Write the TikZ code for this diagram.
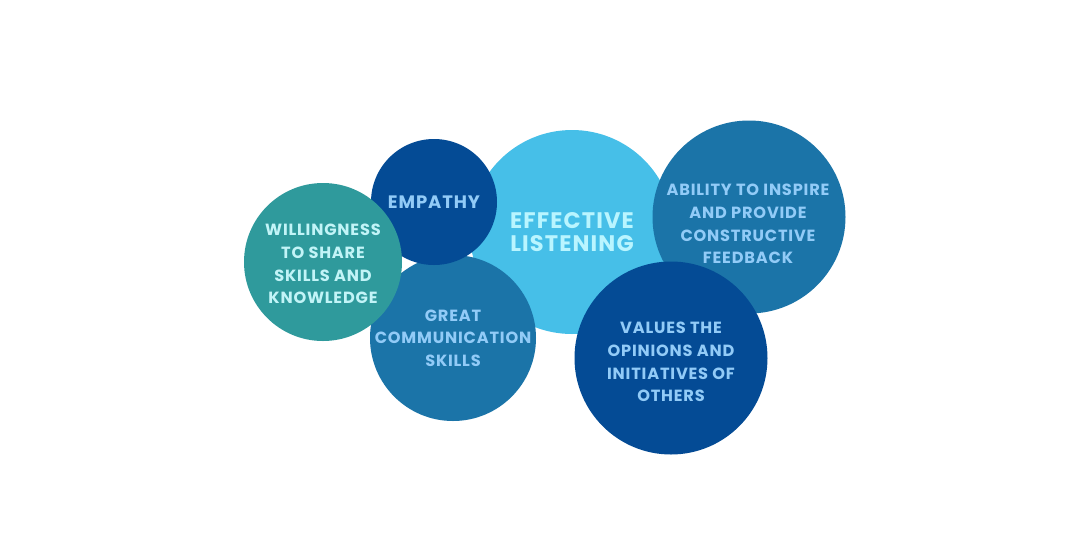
\documentclass[tikz,border=0pt]{standalone}
\usepackage{fontspec}
\usepackage{tikz}
\newfontfamily\bubblefont{Poppins}[LetterSpace=5.0]

\definecolor{tealc}{HTML}{2F9A9C}
\definecolor{navyc}{HTML}{044B95}
\definecolor{midc}{HTML}{1B74A8}
\definecolor{skyc}{HTML}{46BFE8}
\definecolor{paletxt}{HTML}{C2F4F7}
\definecolor{bluetxt}{HTML}{92CBF7}
\definecolor{skytxt}{HTML}{B9F5FF}

\tikzset{
	bubble/.style={circle, inner sep=0pt},
	words/.style={align=center, inner sep=0pt, text=bluetxt,
		font=\bubblefont\bfseries\fontsize{16.2}{22.7}\selectfont},
}

\begin{document}
\begin{tikzpicture}[x=1pt, y=-1pt]
	\fill[white] (0,0) rectangle (1080,550);
	% circles, back to front
	\node[bubble, fill=skyc, minimum size=204pt] (listen) at (572,232) {};
	\node[bubble, fill=midc, minimum size=166pt] (comm) at (453,338) {};
	\node[bubble, fill=midc, minimum size=193pt] (inspire) at (749,217) {};
	\node[bubble, fill=navyc, minimum size=193pt] (values) at (671,358) {};
	\node[bubble, fill=navyc, minimum size=126pt] (empathy) at (434,202) {};
	\node[bubble, fill=tealc, minimum size=158pt] (share) at (323,262) {};
	% texts
	\node[words, text=skytxt, font=\bubblefont\bfseries\fontsize{22.5}{23}\selectfont] (listen-t) at (572,232) {EFFECTIVE\\LISTENING};
	\node[words] (comm-t) at (453,338) {GREAT\\COMMUNICATION\\SKILLS};
	\node[words] (inspire-t) at (748,224) {ABILITY TO INSPIRE\\AND PROVIDE\\CONSTRUCTIVE\\FEEDBACK};
	\node[words] (values-t) at (671,362) {VALUES THE\\OPINIONS AND\\INITIATIVES OF\\OTHERS};
	\node[words, font=\bubblefont\bfseries\fontsize{18}{22.7}\selectfont] (empathy-t) at (434,202) {EMPATHY};
	\node[words, text=paletxt] (share-t) at (323,264) {WILLINGNESS\\TO SHARE\\SKILLS AND\\KNOWLEDGE};
\end{tikzpicture}
\end{document}
